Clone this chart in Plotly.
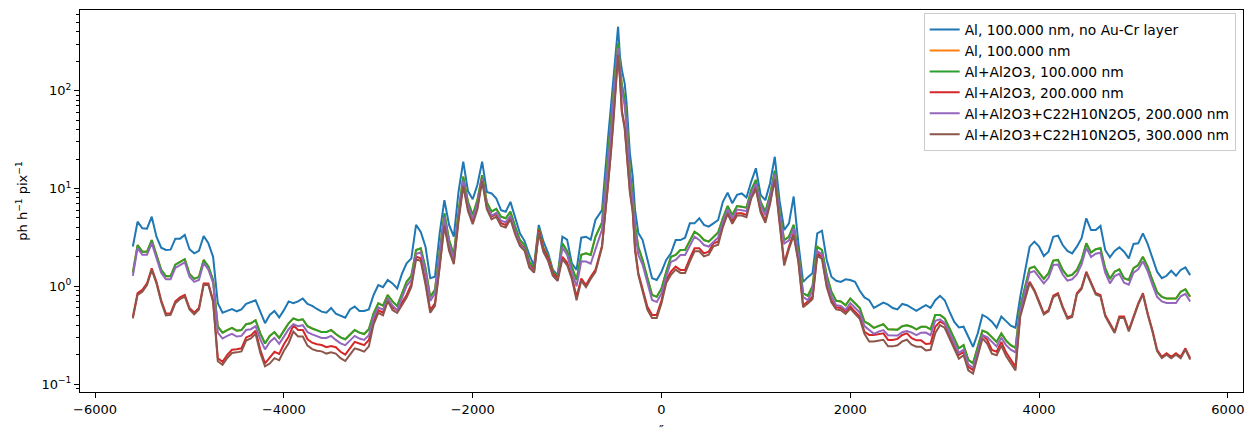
import plotly.graph_objects as go

# offset along the slit, arcsec: main readings (every 100" plus the central peak)
offset_main = [-5600,-5500,-5400,-5300,-5200,-5100,-5000,-4900,-4800,-4700,
          -4600,-4500,-4400,-4300,-4200,-4100,-4000,-3900,-3800,-3700,
          -3600,-3500,-3400,-3300,-3200,-3100,-3000,-2900,-2800,-2700,
          -2600,-2500,-2400,-2300,-2200,-2100,-2000,-1900,-1800,-1700,
          -1600,-1500,-1400,-1300,-1200,-1100,-1000,-900,-800,-700,
          -630,-600,-565,-535,-510,-485,-460,-440,-420,-390,-370,-335,-305,-280,-245,
          -200,-100,0,100,200,300,400,500,600,700,
          800,900,1000,1100,1200,1300,1400,1500,1600,1700,
          1800,1900,2000,2100,2200,2300,2400,2500,2600,2700,
          2800,2900,3000,3100,3200,3300,3400,3500,3600,3700,
          3800,3900,4000,4100,4200,4300,4400,4500,4600,4700,
          4800,4900,5000,5100,5200,5300,5400,5500,5600]

# extra readings half-way between the main ones
offset_mid = ([-5550 + 100 * i for i in range(49)] + [-150 + 100 * i for i in range(58)])

blue_main = [2.55,3.92,5.15,2.48,2.37,3.07,2.39,2.30,2.75,0.67,
 0.56,0.555,0.66,0.72,0.42,0.56,0.57,0.67,0.75,0.63,
 0.55,0.60,0.50,0.58,0.56,0.58,1.03,1.16,0.95,1.72,
 4.24,2.54,1.25,7.6,3.21,18.8,7.75,18.8,8.9,6.0,
 7.3,3.48,2.09,4.24,2.17,1.30,3.0,1.47,3.21,4.76,
 6.0,14.4,34,70,139,250,451,223,163,119,75,23,13.2,6.0,3.5,
 2.97,1.21,1.41,2.17,2.97,4.4,4.96,4.07,4.76,9.06,
 8.6,8.1,16.1,7.6,21.1,3.76,8.28,1.11,1.36,3.70,
 1.25,1.11,1.16,0.90,0.72,0.64,0.65,0.58,0.64,0.56,
 0.64,0.72,0.72,0.435,0.386,0.24,0.51,0.435,0.49,0.395,
 0.78,2.54,2.54,2.26,3.30,2.30,2.54,4.96,3.76,2.35,
 2.30,2.26,2.71,3.48,1.93,1.21,1.44,1.47,1.30]
blue_mid = [4.58,3.88,3.21,2.35,3.07,3.35,2.17,3.27,2.0,0.537,
 0.586,0.58,0.69,0.55,0.51,0.48,0.70,0.70,0.66,0.586,
 0.537,0.525,0.477,0.62,0.56,0.815,0.98,1.07,1.34,1.93,
 3.6,1.21,3.48,4.24,9.3,9.4,10.9,9.2,7.9,5.79,
 4.96,2.9,1.62,2.86,1.47,3.21,1.72,3.14,3.0,
 1.93,1.16,1.86,2.97,3.14,4.4,4.24,4.4,
 7.3,7.06,8.9,11.7,8.6,11.3,7.6,4.4,2.75,1.24,
 3.48,1.86,1.14,1.18,1.11,0.77,0.60,0.68,0.60,0.66,
 0.60,0.60,0.60,0.80,0.555,0.38,0.305,0.33,0.48,0.377,
 0.44,0.377,1.41,2.86,2.04,3.21,2.64,2.17,3.10,3.76,
 4.14,1.98,2.5,1.93,2.75,2.71,1.41,1.28,1.28,1.56]

green_main = [1.38,2.26,2.97,1.47,1.27,1.76,1.34,1.25,1.59,0.386,
 0.357,0.352,0.41,0.45,0.26,0.34,0.352,0.47,0.46,0.37,
 0.34,0.357,0.30,0.318,0.336,0.363,0.67,0.815,0.63,1.11,
 2.35,1.53,0.92,5.58,2.09,13.2,5.36,13.7,5.79,5.15,
 5.79,2.97,1.79,3.92,2.0,1.25,2.3,1.16,2.17,3.21,
 4.5,9.6,22,45,90,170,305,170,115,82,50,15,8.5,4.2,2.5,
 1.86,0.815,0.95,2.0,2.35,2.97,3.35,2.86,3.55,6.62,
 6.62,6.37,12.2,5.79,15.2,2.97,4.24,0.85,1.0,2.35,
 0.88,0.70,0.75,0.60,0.41,0.395,0.363,0.36,0.40,0.363,
 0.386,0.51,0.47,0.294,0.25,0.163,0.352,0.30,0.33,0.25,
 0.62,1.53,1.36,1.36,1.86,1.27,1.47,2.75,2.39,1.53,
 1.41,1.21,1.53,2.0,1.16,0.78,0.75,0.88,0.78]
green_mid = [2.64,2.26,2.04,1.27,1.66,1.89,1.19,1.86,1.16,0.336,
 0.375,0.357,0.418,0.33,0.31,0.296,0.418,0.45,0.39,0.357,
 0.34,0.325,0.287,0.357,0.325,0.53,0.633,0.70,0.85,1.28,
 2.45,0.78,2.26,2.97,5.79,7.3,7.6,7.2,6.2,4.96,
 4.07,2.64,1.53,2.45,1.41,2.75,1.59,2.1,2.09,
 1.25,0.78,1.41,2.09,2.35,3.62,2.97,3.21,
 4.96,5.36,6.52,9.6,7.3,8.6,5.79,3.21,2.17,0.80,
 2.54,1.30,0.71,0.64,0.67,0.435,0.375,0.41,0.36,0.39,
 0.386,0.385,0.363,0.51,0.372,0.232,0.177,0.24,0.336,0.27,
 0.278,0.234,1.0,1.59,1.19,1.83,1.47,1.31,1.86,2.21,
 2.45,1.19,1.49,1.16,1.65,1.59,0.87,0.75,0.75,0.93]

red_main = [0.49,0.92,1.53,0.72,0.53,0.77,0.60,0.60,1.07,0.184,
 0.199,0.227,0.30,0.352,0.163,0.214,0.255,0.40,0.357,0.265,
 0.251,0.245,0.214,0.232,0.26,0.282,0.57,0.75,0.57,0.815,
 2.01,1.11,0.67,4.41,1.79,11.3,4.58,12.7,5.15,4.41,
 5.15,2.75,1.65,3.76,1.93,1.21,1.75,0.78,1.03,1.47,
 2.6,5.0,11.3,24.8,50,110,240,139,63,43,24.8,9.6,6.0,2.45,1.36,
 0.92,0.51,0.72,1.41,1.47,1.93,2.45,2.26,2.86,5.79,
 5.58,5.36,10.3,4.69,13.0,1.72,3.48,0.64,0.78,2.0,
 0.72,0.60,0.62,0.49,0.318,0.325,0.283,0.29,0.33,0.28,
 0.257,0.386,0.41,0.25,0.214,0.139,0.318,0.223,0.27,0.18,
 0.53,1.11,0.70,0.57,0.85,0.48,0.85,1.41,0.85,0.51,
 0.343,0.49,0.49,0.85,0.357,0.19,0.19,0.19,0.184]
red_mid = [0.85,1.07,1.11,0.525,0.70,0.815,0.54,1.07,0.72,0.169,
 0.224,0.232,0.315,0.224,0.188,0.203,0.305,0.357,0.287,0.255,
 0.238,0.238,0.2,0.27,0.25,0.435,0.537,0.61,0.69,1.05,
 1.93,0.57,1.65,2.45,4.96,6.27,6.52,6.52,5.48,4.24,
 3.62,2.45,1.47,2.41,1.36,2.0,1.25,1.2,1.25,
 0.62,0.51,1.16,1.59,1.47,2.45,2.17,2.75,
 4.24,4.58,5.58,8.28,6.0,7.3,4.96,2.54,1.86,0.70,
 2.17,1.03,0.61,0.55,0.55,0.343,0.318,0.33,0.283,0.318,
 0.294,0.28,0.26,0.435,0.318,0.198,0.15,0.214,0.283,0.214,
 0.211,0.15,0.815,0.917,0.53,0.80,0.62,0.50,0.97,1.07,
 0.815,0.418,0.49,0.357,0.67,0.53,0.224,0.207,0.207,0.232]

purple_main = [1.28,2.10,2.76,1.37,1.18,1.64,1.25,1.16,1.48,0.336,
 0.311,0.306,0.357,0.39,0.226,0.296,0.306,0.41,0.40,0.322,
 0.296,0.311,0.261,0.277,0.292,0.316,0.61,0.74,0.57,1.01,
 2.14,1.39,0.84,5.08,1.90,12.0,4.88,12.5,5.27,4.69,
 5.27,2.70,1.63,3.57,1.82,1.14,2.1,1.0,1.79,2.35,
 3.8,8.0,18,38,78,150,272,155,100,70,42,12.5,7.5,3.6,2.1,
 1.66,0.725,0.845,1.78,2.09,2.64,2.98,2.55,3.16,6.09,
 6.09,5.86,11.2,5.33,14.0,2.73,3.90,0.78,0.90,2.12,
 0.79,0.63,0.675,0.54,0.357,0.344,0.316,0.313,0.348,0.316,
 0.336,0.444,0.423,0.265,0.225,0.147,0.317,0.27,0.297,0.225,
 0.558,1.38,1.22,1.22,1.67,1.14,1.32,2.48,2.15,1.38,
 1.27,1.09,1.38,1.8,1.04,0.70,0.675,0.79,0.70]
purple_mid = [2.46,2.10,1.90,1.18,1.54,1.76,1.11,1.73,1.08,0.292,
 0.326,0.311,0.364,0.287,0.27,0.258,0.364,0.39,0.34,0.311,
 0.296,0.283,0.25,0.311,0.283,0.482,0.576,0.637,0.774,1.16,
 2.23,0.71,2.06,2.70,5.27,6.64,6.92,6.55,5.64,4.51,
 3.70,2.40,1.39,2.23,1.28,2.5,1.4,1.8,1.7,
 1.11,0.69,1.25,1.86,2.09,3.22,2.64,2.86,
 4.56,4.93,6.0,8.83,6.72,7.91,5.33,2.95,2.0,0.72,
 2.29,1.17,0.64,0.576,0.603,0.392,0.326,0.357,0.313,0.339,
 0.336,0.335,0.316,0.459,0.335,0.209,0.159,0.216,0.302,0.243,
 0.25,0.211,0.90,1.43,1.07,1.65,1.32,1.18,1.67,1.99,
 2.2,1.07,1.34,1.04,1.49,1.43,0.78,0.675,0.675,0.837]

brown_main = [0.47,0.88,1.47,0.69,0.51,0.74,0.58,0.58,1.03,0.171,
 0.185,0.211,0.279,0.327,0.152,0.184,0.219,0.344,0.307,0.228,
 0.216,0.211,0.184,0.20,0.224,0.243,0.536,0.705,0.536,0.766,
 1.89,1.04,0.63,4.15,1.68,10.6,4.31,11.9,4.84,4.15,
 4.84,2.59,1.55,3.53,1.81,1.14,1.65,0.72,0.98,1.40,
 2.5,4.8,10.8,23.5,47,104,232,132,60,41,23.5,9.1,5.7,2.3,1.3,
 0.856,0.474,0.67,1.31,1.37,1.79,2.28,2.10,2.66,5.5,
 5.3,5.09,9.8,4.46,12.4,1.63,3.31,0.61,0.74,1.9,
 0.684,0.57,0.59,0.466,0.273,0.28,0.243,0.249,0.284,0.241,
 0.221,0.332,0.377,0.23,0.197,0.128,0.293,0.205,0.248,0.166,
 0.488,1.08,0.68,0.553,0.825,0.466,0.825,1.37,0.825,0.495,
 0.333,0.475,0.475,0.825,0.346,0.184,0.184,0.184,0.178]
brown_mid = [0.816,1.03,1.07,0.504,0.672,0.782,0.518,1.03,0.69,0.157,
 0.208,0.216,0.293,0.208,0.162,0.175,0.262,0.307,0.247,0.219,
 0.205,0.205,0.172,0.232,0.215,0.409,0.505,0.573,0.649,0.987,
 1.81,0.536,1.55,2.30,4.66,5.89,6.13,6.13,5.15,3.99,
 3.40,2.30,1.38,2.27,1.28,1.9,1.19,1.14,1.19,
 0.577,0.474,1.08,1.48,1.37,2.28,2.02,2.56,
 4.03,4.35,5.3,7.87,5.7,6.94,4.71,2.41,1.77,0.665,
 2.06,0.98,0.58,0.523,0.523,0.326,0.273,0.284,0.243,0.273,
 0.253,0.241,0.224,0.40,0.293,0.182,0.138,0.197,0.26,0.197,
 0.194,0.138,0.75,0.89,0.514,0.776,0.60,0.485,0.94,1.04,
 0.79,0.405,0.475,0.346,0.65,0.514,0.217,0.20,0.20,0.225]

series_names = ["Al, 100.000 nm, no Au-Cr layer", "Al, 100.000 nm", "Al+Al2O3, 100.000 nm",
                "Al+Al2O3, 200.000 nm", "Al+Al2O3+C22H10N2O5, 200.000 nm",
                "Al+Al2O3+C22H10N2O5, 300.000 nm"]
# "Al, 100.000 nm" lies hidden under the Al+Al2O3 100 nm curve in the picture
series_main = [blue_main, green_main, green_main, red_main, purple_main, brown_main]
series_mid = [blue_mid, green_mid, green_mid, red_mid, purple_mid, brown_mid]
colors = ["#1f77b4", "#ff7f0e", "#2ca02c", "#d62728", "#9467bd", "#8c564b"]

x_ticks = [-6000, -4000, -2000, 0, 2000, 4000, 6000]
x_ticktext = ["\u22126000", "\u22124000", "\u22122000", "0", "2000", "4000", "6000"]
y_ticks = [0.1, 1, 10, 100]
y_ticktext = ["10<sup>\u22121</sup>", "10<sup>0</sup>", "10<sup>1</sup>", "10<sup>2</sup>"]
y_minor = [m * 10.0 ** e for e in range(-2, 3) for m in range(2, 10)]

fig = go.Figure()
for name, vm, vh, c in zip(series_names, series_main, series_mid, colors):
    assert len(vm) == len(offset_main) and len(vh) == len(offset_mid)
    pts = sorted(zip(offset_main + offset_mid, vm + vh))
    fig.add_trace(go.Scatter(x=[p[0] for p in pts], y=[p[1] for p in pts], mode="lines",
                             name=name, line=dict(color=c, width=2)))

font = "DejaVu Sans, sans-serif"
fig.update_layout(
    width=1255, height=448,
    margin=dict(l=80, r=12, t=10, b=56),
    paper_bgcolor="white", plot_bgcolor="white",
    font=dict(family=font, size=13, color="black"),
    showlegend=True,
    legend=dict(x=0.9937, y=0.992, xanchor="right", yanchor="top",
                bgcolor="rgba(255,255,255,0.8)", bordercolor="#cccccc", borderwidth=1,
                font=dict(family=font, size=13.8, color="black"),
                tracegroupgap=0),
    xaxis=dict(range=[-6160, 6160], tickmode="array", tickvals=x_ticks, ticktext=x_ticktext,
               ticks="outside", ticklen=5, tickwidth=1, tickcolor="black",
               showline=True, linecolor="black", linewidth=1, mirror=True,
               showgrid=False, zeroline=False,
               title=dict(text="\u2033", standoff=9, font=dict(family=font, size=13))),
    yaxis=dict(type="log", range=[-1.081, 2.825], tickmode="array", tickvals=y_ticks,
               ticktext=y_ticktext, ticks="outside", ticklen=5, tickwidth=1, tickcolor="black",
               showline=True, linecolor="black", linewidth=1, mirror=True,
               showgrid=False, zeroline=False,
               minor=dict(tickmode="array", tickvals=y_minor, ticks="outside", ticklen=3,
                          tickwidth=0.8, tickcolor="black", showgrid=False),
               title=dict(text="ph h<sup>\u22121</sup> pix<sup>\u22121</sup>", standoff=10,
                          font=dict(family=font, size=13))),
)

fig.write_html("out.html")
